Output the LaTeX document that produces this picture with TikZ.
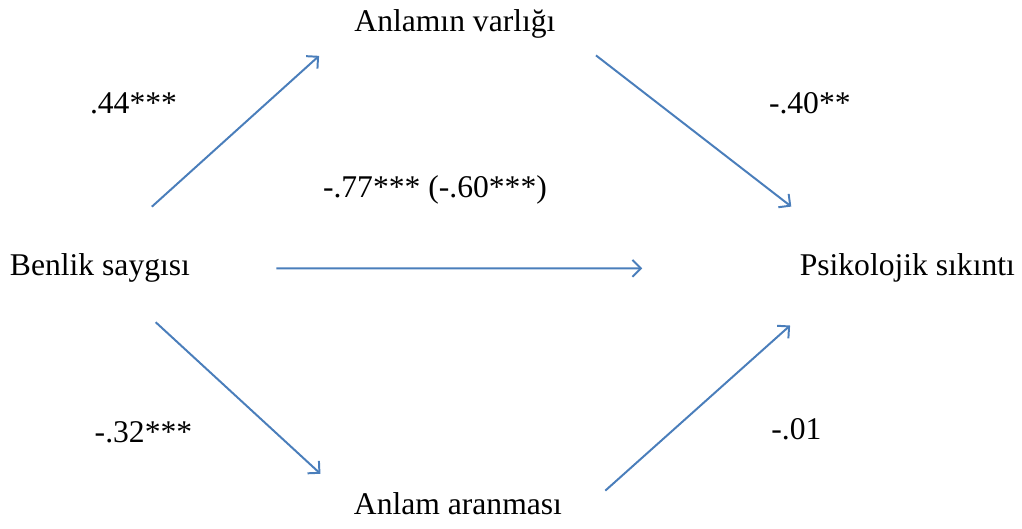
\documentclass[tikz,border=0pt]{standalone}
\usepackage{fontspec}
\setmainfont{Liberation Serif}
\usetikzlibrary{arrows.meta}
\definecolor{linkblue}{HTML}{4A7EBB}

\begin{document}
\begin{tikzpicture}[
    every node/.style={font=\fontsize{12}{14}\selectfont, inner sep=0pt, anchor=base},
    link/.style={draw=linkblue, line width=0.75pt,
        -{Straight Barb[length=3.2pt,width=6.4pt]}}
]

\useasboundingbox (0,0) rectangle (13.636,7.057);

% Variables
\node (ben) at (1.334,3.375) {Benlik saygısı};
\node (anl) at (6.070,6.630) {Anlamın varlığı};
\node (psi) at (12.106,3.375) {Psikolojik sıkıntı};
\node (ara) at (6.110,0.187) {Anlam aranması};

% Coefficients
\node (ca) at (1.781,5.549) {.44***};
\node (cb) at (10.805,5.536) {-.40**};
\node (cc) at (5.803,4.416) {-.77*** (-.60***)};
\node (cd) at (1.914,1.147) {-.32***};
\node (ce) at (10.625,1.187) {-.01};

% Paths
\draw[link, shorten <=26.5pt, shorten >=17.8pt] (ben.north) -- (anl.west);
\draw[link, shorten <=19.2pt, shorten >=29.1pt] (anl.east) -- (psi.165);
\draw[link, shorten <=32.6pt, shorten >=59.6pt] (ben.east) -- (psi.west);
\draw[link, shorten <=21.8pt, shorten >=17pt] (ben.-48) -- (ara.west);
\draw[link, shorten <=14.3pt, shorten >=24.1pt]
    ([xshift=5.6pt]ara.south east) -- (psi.-168);

\end{tikzpicture}
\end{document}
